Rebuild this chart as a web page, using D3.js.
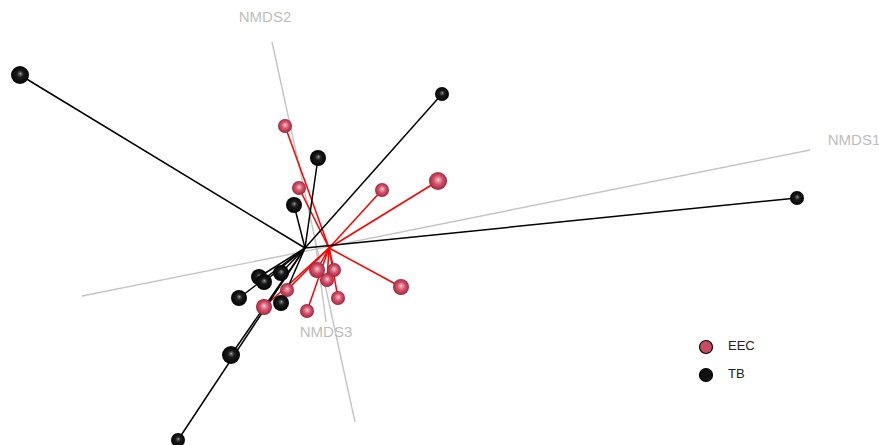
<!DOCTYPE html>
<html>
<head>
<meta charset="utf-8">
<script src="https://cdn.jsdelivr.net/npm/d3@7/dist/d3.min.js"></script>
<style>
  html, body { margin: 0; padding: 0; background: #fff; }
  svg { display: block; }
</style>
</head>
<body>
<svg id="chart" width="879" height="445"></svg>
<script>
// Projected NMDS ordination (view-plane coordinates, origin at the axis crossing)
const groups = ["EEC", "TB"];

// EEC samples: projected x, y and apparent sphere radius (depth cue)
const eecX = [-0.32, -0.18, 0.65, 1.21, 0.84, 0.00, 0.17, 0.10, 0.21, -0.30, -0.53, -0.10];
const eecY = [1.23, 0.61, 0.59, 0.68, -0.38, -0.21, -0.21, -0.31, -0.49, -0.41, -0.58, -0.62];
const eecR = [7, 7, 7, 9, 8, 8, 7, 7, 7, 7, 8, 7];

// TB samples
const tbX = [-2.97, 1.25, 0.01, -0.23, 4.80, -0.58, -0.53, -0.36, -0.78, -0.36, -0.86, -1.39];
const tbY = [1.74, 1.55, 0.91, 0.44, 0.51, -0.28, -0.33, -0.24, -0.49, -0.54, -1.06, -1.91];
const tbR = [9, 7, 8, 8, 7, 8, 8, 8, 8, 8, 9, 7];

// Group centroids (spider hubs)
const centroidX = [0.12, -0.12];
const centroidY = [0.01, 0.01];

// Ordination axes: start and end in projected coordinates, with titles
const axisNames = ["NMDS1", "NMDS2", "NMDS3"];
const axisX0 = [-2.35, -0.45, -0.02];
const axisY0 = [-0.47, 2.07, 0.09];
const axisX1 = [4.93, 0.38, 0.09];
const axisY1 = [0.99, -1.73, -0.73];
const axisLabelX = [5.37, -0.52, 0.09];
const axisLabelY = [1.08, 2.31, -0.84];

const colors = { EEC: "#cc4a61", TB: "#111111" };
const spokeColors = { EEC: "#ff0000", TB: "#000000" };

const width = 879, height = 445;
const svg = d3.select("#chart");

const x = d3.scaleLinear().domain([-3.17, 5.62]).range([0, width]);
const y = d3.scaleLinear().domain([2.49, -1.96]).range([0, height]);

// Sphere shading gradients
const defs = svg.append("defs");
function sphereGradient(id, stops) {
  const g = defs.append("radialGradient").attr("id", id)
    .attr("cx", "0.5").attr("cy", "0.5").attr("r", "0.55")
    .attr("fx", "0.52").attr("fy", "0.42");
  stops.forEach(s => g.append("stop").attr("offset", s[0]).attr("stop-color", s[1]));
}
sphereGradient("sphere-EEC", [[0, "#fbe3e8"], [0.12, "#f2a4b3"], [0.45, "#d2566c"], [0.8, "#b23049"], [1, "#7e1a2e"]]);
sphereGradient("sphere-TB", [[0, "#bfbfbf"], [0.1, "#666"], [0.35, "#1a1a1a"], [1, "#000"]]);

// Axes
const axes = axisNames.map((n, i) => ({ name: n, x0: axisX0[i], y0: axisY0[i], x1: axisX1[i], y1: axisY1[i], lx: axisLabelX[i], ly: axisLabelY[i] }));
svg.append("g").selectAll("line").data(axes).join("line")
  .attr("x1", d => x(d.x0)).attr("y1", d => y(d.y0))
  .attr("x2", d => x(d.x1)).attr("y2", d => y(d.y1))
  .attr("stroke", "#c4c4c4").attr("stroke-width", 1.4);
svg.append("g").selectAll("text").data(axes).join("text")
  .attr("x", d => x(d.lx)).attr("y", d => y(d.ly))
  .attr("text-anchor", "middle").attr("dominant-baseline", "middle")
  .attr("font-family", "Liberation Sans, Arial, sans-serif").attr("font-size", 15)
  .attr("fill", "#bdbdbd").text(d => d.name);

// Samples
const samples = [];
eecX.forEach((v, i) => samples.push({ g: "EEC", x: v, y: eecY[i], r: eecR[i] }));
tbX.forEach((v, i) => samples.push({ g: "TB", x: v, y: tbY[i], r: tbR[i] }));
const hub = {};
groups.forEach((g, i) => hub[g] = { x: centroidX[i], y: centroidY[i] });

// Spider lines from each centroid
svg.append("g").selectAll("line").data(samples).join("line")
  .attr("x1", d => x(hub[d.g].x)).attr("y1", d => y(hub[d.g].y))
  .attr("x2", d => x(d.x)).attr("y2", d => y(d.y))
  .attr("stroke", d => spokeColors[d.g]).attr("stroke-width", 1.5);

// Spheres, drawn back to front by size
const order = samples.slice().sort((a, b) => a.r - b.r);
svg.append("g").selectAll("circle").data(order).join("circle")
  .attr("cx", d => x(d.x)).attr("cy", d => y(d.y)).attr("r", d => d.r)
  .attr("fill", d => `url(#sphere-${d.g})`);

// Legend
const legend = svg.append("g").attr("transform", "translate(706,347)");
const li = legend.selectAll("g").data(groups).join("g")
  .attr("transform", (d, i) => `translate(0,${i * 28})`);
li.append("circle").attr("r", 6.5).attr("fill", d => colors[d])
  .attr("stroke", "#000").attr("stroke-width", 1.2);
li.append("text").attr("x", 22).attr("y", 0).attr("dominant-baseline", "middle")
  .attr("font-family", "Liberation Sans, Arial, sans-serif").attr("font-size", 13)
  .attr("fill", "#222").text(d => d);
</script>
</body>
</html>
